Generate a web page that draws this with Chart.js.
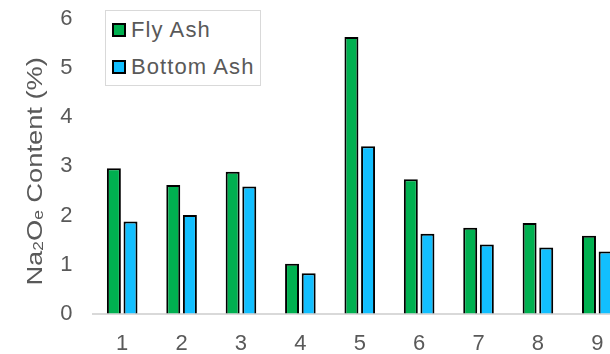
<!DOCTYPE html>
<html>
<head>
<meta charset="utf-8">
<script src="https://cdn.jsdelivr.net/npm/chart.js@4.4.1/dist/chart.umd.min.js"></script>
<style>
  html, body { margin: 0; padding: 0; background: #fff; overflow: hidden; width: 610px; height: 354px; }
  #wrap { position: relative; width: 640px; height: 354px; }
  #legend {
    position: absolute; left: 105px; top: 10px; width: 156px; height: 76px;
    box-sizing: border-box; border: 1px solid #d9d9d9; background: #fff;
    font-family: "Liberation Sans", Arial, sans-serif; font-size: 22px; color: #595959;
    letter-spacing: 1.1px;
  }
  .item { position: absolute; left: 6px; height: 26px; line-height: 26px; white-space: nowrap; }
  .sw { display: inline-block; width: 14px; height: 14px; box-sizing: border-box; border: 2px solid #000;
        vertical-align: middle; margin: -3px 5px 0 0; }
</style>
</head>
<body>
<div id="wrap">
  <canvas id="c" width="640" height="354"></canvas>
  <div id="legend"></div>
</div>
<script>
// Sample numbers along the x axis
const categories = ['1', '2', '3', '4', '5', '6', '7', '8', '9'];
// Na2Oe content (%) per sample
const flyAsh    = [2.96, 2.62, 2.89, 1.02, 5.63, 2.74, 1.75, 1.85, 1.59];
const bottomAsh = [1.88, 2.01, 2.59, 0.83, 3.41, 1.63, 1.41, 1.35, 1.27];
// Series names and colours
const seriesNames  = ['Fly Ash', 'Bottom Ash'];
const seriesColors = ['#00B050', '#12BFFF'];
// Value axis range
const yMin = 0, yMax = 6, yStep = 1;

const TEXT = '#595959';
const FONT = '"Liberation Sans", Arial, sans-serif';

// Rotated axis title with subscripts: Na₂Oₑ Content (%)
const yTitlePlugin = {
  id: 'yTitle',
  afterDraw(chart) {
    const ctx = chart.ctx;
    const parts = [['Na', false], ['2', true], ['O', false], ['e', true], [' Content (%)', false]];
    const big = 22, small = 14, stretch = 1.24;
    ctx.save();
    let total = 0;
    for (const [t, sub] of parts) {
      ctx.font = (sub ? small : big) + 'px ' + FONT;
      total += ctx.measureText(t).width;
    }
    const cy = (chart.chartArea.top + chart.chartArea.bottom) / 2 + 5;
    ctx.translate(41.5, cy);
    ctx.rotate(-Math.PI / 2);
    ctx.scale(stretch, 1);
    ctx.fillStyle = TEXT;
    ctx.textBaseline = 'alphabetic';
    ctx.textAlign = 'left';
    let x = -total / 2;
    for (const [t, sub] of parts) {
      ctx.font = (sub ? small : big) + 'px ' + FONT;
      ctx.fillText(t, x, sub ? 1.5 : 0);
      x += ctx.measureText(t).width;
    }
    ctx.restore();
  }
};

const datasets = [flyAsh, bottomAsh].map((vals, i) => ({
  label: seriesNames[i],
  data: vals,
  backgroundColor: seriesColors[i],
  borderColor: '#000000',
  borderWidth: 2,
  borderSkipped: 'start',
  categoryPercentage: 0.56,
  barPercentage: 0.84
}));

new Chart(document.getElementById('c'), {
  type: 'bar',
  data: { labels: categories, datasets },
  options: {
    responsive: false,
    animation: false,
    devicePixelRatio: 1,
    layout: { padding: { top: 18.7, right: 13, left: 0, bottom: 0 } },
    plugins: { legend: { display: false }, tooltip: { enabled: false } },
    scales: {
      x: {
        z: 1,
        grid: { display: false },
        border: { display: true, color: '#d9d9d9', width: 2 },
        ticks: { color: TEXT, font: { family: FONT, size: 22 }, padding: 9 },
        afterFit(scale) { scale.height = 40; }
      },
      y: {
        min: yMin, max: yMax,
        // invisible tick marks keep the labels clear of the plot
        grid: { display: true, drawOnChartArea: false, drawTicks: true, tickLength: 20, tickColor: 'rgba(0,0,0,0)' },
        border: { display: false },
        ticks: { stepSize: yStep, color: TEXT, font: { family: FONT, size: 22 }, padding: 0 },
        afterFit(scale) { scale.width = 92.5; }
      }
    }
  },
  plugins: [yTitlePlugin]
});

// Legend box built from the series definitions
const legend = document.getElementById('legend');
seriesNames.forEach((name, i) => {
  const item = document.createElement('div');
  item.className = 'item';
  item.style.top = (i === 0 ? 6 : 43) + 'px';
  const sw = document.createElement('span');
  sw.className = 'sw';
  sw.style.background = seriesColors[i];
  item.appendChild(sw);
  item.appendChild(document.createTextNode(name));
  legend.appendChild(item);
});
</script>
</body>
</html>
